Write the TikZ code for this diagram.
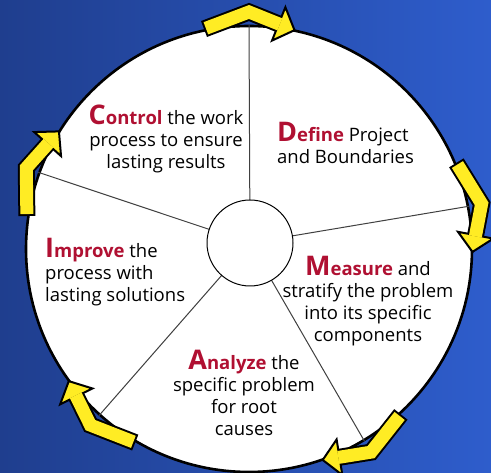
\documentclass[tikz,border=0pt]{standalone}
\usepackage{fontspec}
\setmainfont{Open Sans}
\usetikzlibrary{calc}
\definecolor{deepblue}{RGB}{31,62,142}
\definecolor{lightblue}{RGB}{46,93,204}
\definecolor{phasered}{RGB}{176,16,50}
\definecolor{arrowyellow}{RGB}{255,236,36}
\newcommand{\phase}[2]{\textcolor{phasered}{\bfseries{\fontsize{27}{22}\selectfont #1}#2}}
\tikzset{
  sector/.style={font=\fontsize{18.5}{22}\selectfont, inner sep=0pt},
  spoke/.style={draw=black!75, line width=1pt},
  shaft/.style={line width=17pt, line join=miter},
}
% one bent arrow on the rim, #1 = angle of the spoke
\newcommand{\cyclearrow}[1]{%
  \begin{scope}[shift={($(wheel.center)+(#1:237)$)}, rotate=#1-90]
    \draw[shaft] (-45,-17) -- (0,0) -- (29.7,-11.9);
    \filldraw[fill=arrowyellow, line width=2pt, line join=miter]
      (36.4,4.8) -- (45.5,-18.2) -- (23,-28.6) -- cycle;
    \draw[shaft, arrowyellow, line width=13pt, shorten <=2pt, shorten >=-1.2pt]
      (-45,-17) -- (0,0) -- (29.7,-11.9);
  \end{scope}}

\begin{document}
\begin{tikzpicture}[x=1pt, y=1pt]
	\useasboundingbox (0,0) rectangle (491,473);
	\shade[left color=deepblue, right color=lightblue] (0,0) rectangle (491,473);
	% Place wheel
	\node [circle, draw, fill=white, line width=2.6pt, minimum size=446pt] (wheel) at (249,224) {};
	\foreach \a in {90,11,160,228,-59}
		\draw [spoke] (250,230) -- (wheel.\a);
	\node [circle, draw, fill=white, line width=1pt, minimum size=86pt] (hub) at (250,230) {};
	% Place phases
	\node [sector, align=center] (control) at (166,334) {\phase{C}{ontrol} the work\\process to ensure\\lasting results};
	\node [sector, align=left, anchor=west] (define) at (277,330) {\phase{D}{efine} Project\\and Boundaries};
	\node [sector, align=center] (measure) at (368,172) {\phase{M}{easure} and\\stratify the problem\\into its specific\\components};
	\node [sector, align=center] (analyze) at (244,80) {\phase{A}{nalyze} the\\specific problem\\for root\\causes};
	\node [sector, align=left, anchor=west] (improve) at (45,201) {\phase{I}{mprove} the\\process with\\lasting solutions};
	% Draw arrows
	\foreach \a in {90,11,160,228,-59}
		{\cyclearrow{\a}}
\end{tikzpicture}
\end{document}
